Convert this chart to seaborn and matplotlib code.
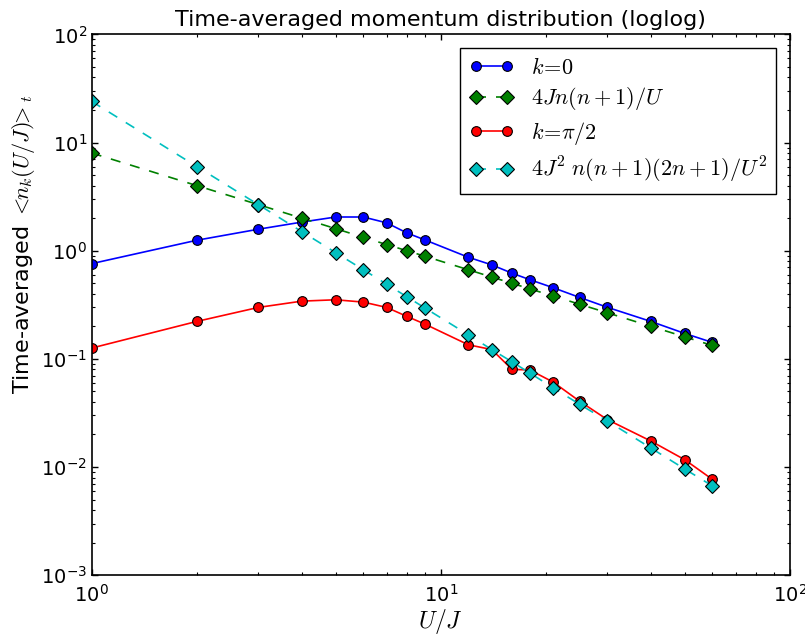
import numpy as np
import pandas as pd
import seaborn as sns
import matplotlib
matplotlib.use("Agg")
import matplotlib.pyplot as plt

# values
u_over_j = [1, 2, 3, 4, 5, 6, 7, 8, 9, 12, 14, 16, 18, 21, 25, 30, 40, 50, 60]
n_k0 = [0.76, 1.25, 1.58, 1.84, 2.05, 2.05, 1.81, 1.46, 1.26, 0.87, 0.74, 0.62,
        0.54, 0.455, 0.37, 0.30, 0.222, 0.172, 0.142]
first_order = [8.0, 4.0, 2.67, 2.0, 1.6, 1.33, 1.14, 1.0, 0.89, 0.667, 0.571, 0.5,
               0.444, 0.381, 0.32, 0.267, 0.2, 0.16, 0.133]
n_kpi2 = [0.126, 0.222, 0.299, 0.342, 0.352, 0.335, 0.299, 0.247, 0.21, 0.135, 0.122,
          0.080, 0.079, 0.061, 0.0406, 0.0275, 0.0174, 0.0117, 0.0077]
second_order = [24.0, 6.0, 2.67, 1.5, 0.96, 0.667, 0.49, 0.375, 0.296, 0.167, 0.122,
                0.094, 0.074, 0.054, 0.038, 0.0267, 0.015, 0.0096, 0.0067]

labels = [r"$k\!=\!0$", r"$4Jn(n+1)/U$", r"$k\!=\!\pi/2$", r"$4J^2\;n(n+1)(2n+1)/U^2$"]

sns.set_style("ticks", {"xtick.direction": "in", "ytick.direction": "in",
                        "text.color": "k", "axes.labelcolor": "k",
                        "xtick.color": "k", "ytick.color": "k", "axes.edgecolor": "k"})
plt.rcParams["font.family"] = ["DejaVu Sans"]
plt.rcParams["mathtext.fontset"] = "cm"
plt.rcParams["lines.dashed_pattern"] = [6, 6]

df = pd.DataFrame({"x": u_over_j, "k0": n_k0, "g": first_order,
                   "kpi": n_kpi2, "c": second_order})

fig, ax = plt.subplots(figsize=(8.05, 6.37), dpi=100)
fig.subplots_adjust(left=0.114, right=0.981, top=0.946, bottom=0.097)

sns.lineplot(data=df, x="x", y="k0", color="#0000ff", marker="o", markersize=7,
             markeredgecolor="k", markeredgewidth=0.8, linewidth=1.2, label=labels[0], ax=ax)
sns.lineplot(data=df, x="x", y="g", color="#008000", marker="D", markersize=7,
             markeredgecolor="k", markeredgewidth=0.8, linewidth=1.2, linestyle="--",
             label=labels[1], ax=ax)
sns.lineplot(data=df, x="x", y="kpi", color="#ff0000", marker="o", markersize=7,
             markeredgecolor="k", markeredgewidth=0.8, linewidth=1.2, label=labels[2], ax=ax)
sns.lineplot(data=df, x="x", y="c", color="#00bfbf", marker="D", markersize=7,
             markeredgecolor="k", markeredgewidth=0.8, linewidth=1.2, linestyle="--",
             label=labels[3], ax=ax)

ax.set_xscale("log")
ax.set_yscale("log")
ax.set_xlim(1, 100)
ax.set_ylim(1e-3, 1e2)

ax.tick_params(which="both", top=True, right=True, labelsize=14, colors="k")
ax.tick_params(which="major", length=4.5, width=1)
ax.tick_params(which="minor", length=2.5, width=0.8)
ax.tick_params(axis="x", which="major", pad=6)
for s in ax.spines.values():
    s.set_linewidth(1.2)
    s.set_color("k")

ax.set_title("Time-averaged momentum distribution (loglog)", fontsize=16, color="k")
ax.set_xlabel(r"$U/J$", fontsize=17, labelpad=1)
ax.set_ylabel(r"Time-averaged $<\!\!n_k(U/J)\!\!>_t$", fontsize=16)
ax.yaxis.set_label_coords(-0.079, 0.612)

leg = ax.legend(loc="upper right", numpoints=2, fontsize=16, fancybox=False,
                framealpha=1, edgecolor="k", handlelength=2.0, labelspacing=0.35,
                borderaxespad=0.6)
leg.get_frame().set_linewidth(1.0)

fig.savefig("out.png", dpi=100)
